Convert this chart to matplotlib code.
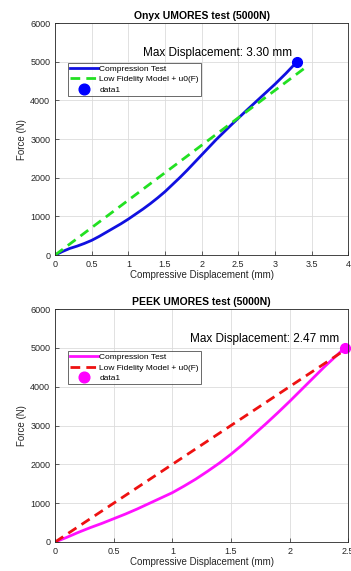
import matplotlib.pyplot as plt
import numpy as np

plt.rcParams['font.family'] = ['Liberation Sans', 'DejaVu Sans']

# Onyx test data
onyx_disp = [0, 0.1, 0.2, 0.3, 0.4, 0.5, 0.6, 0.7, 0.8, 0.9, 1.0, 1.1, 1.2, 1.3, 1.4, 1.5,
             1.6, 1.7, 1.8, 1.9, 2.0, 2.1, 2.2, 2.4, 2.6, 2.8, 3.0, 3.15, 3.3]
onyx_force = [0, 90, 170, 230, 300, 380, 480, 590, 700, 810, 930, 1060, 1190, 1330, 1480, 1640,
              1820, 2000, 2190, 2390, 2590, 2790, 2990, 3360, 3720, 4070, 4420, 4700, 5000]
onyx_model_disp = [0, 3.45]
onyx_model_force = [0, 4900]
onyx_max = 3.30

# PEEK test data
peek_disp = [0, 0.1, 0.2, 0.3, 0.4, 0.5, 0.6, 0.7, 0.8, 0.9, 1.0, 1.1, 1.2, 1.3, 1.4, 1.5,
             1.6, 1.7, 1.8, 1.9, 2.0, 2.1, 2.2, 2.3, 2.4, 2.47]
peek_force = [0, 120, 250, 370, 480, 600, 720, 850, 990, 1130, 1270, 1440, 1620, 1820, 2030, 2260,
              2510, 2780, 3050, 3330, 3620, 3920, 4220, 4520, 4800, 5000]
peek_model_disp = [0, 2.47]
peek_model_force = [0, 4940]
peek_max = 2.47

fig = plt.figure(figsize=(3.51, 5.71), dpi=100)
ax1 = fig.add_axes([0.157, 0.5534, 0.835, 0.406])
ax2 = fig.add_axes([0.157, 0.0508, 0.835, 0.408])


def style(ax, xmax, xticks, title):
    ax.set_xlim(0, xmax)
    ax.set_ylim(0, 6000)
    ax.set_xticks(xticks)
    ax.set_xticklabels([('%g' % t) for t in xticks])
    ax.set_yticks(range(0, 6001, 1000))
    ax.grid(True, color='#dcdcdc', linewidth=0.6)
    ax.set_axisbelow(True)
    ax.tick_params(direction='in', labelsize=6.5, colors='#262626', length=3, width=0.5)
    for s in ax.spines.values():
        s.set_color('#262626')
        s.set_linewidth(0.6)
    ax.set_title(title, fontsize=7.5, fontweight='bold', pad=3)
    ax.set_xlabel('Compressive Displacement (mm)', fontsize=7, color='#262626', labelpad=1)
    ax.set_ylabel('Force (N)', fontsize=7, color='#262626', labelpad=2)


def legend(ax, top):
    leg = ax.legend(loc='upper left', bbox_to_anchor=(0.043, top), fontsize=6, frameon=True,
                    fancybox=False, edgecolor='#262626', borderpad=0.3, labelspacing=0.3,
                    handlelength=3.3, handletextpad=0.2, borderaxespad=0, markerscale=1.1)
    leg.get_frame().set_linewidth(0.6)


dash = (0, (3.5, 2.2))

ax1.plot(onyx_disp, onyx_force, color='#1010e0', linewidth=2, label='Compression Test')
ax1.plot(onyx_model_disp, onyx_model_force, color='#22e022', linewidth=2, linestyle=dash,
         label='Low Fidelity Model + u0(F)')
ax1.plot([onyx_max], [5000], 'o', color='#0000ff', markersize=7, label='data1')
ax1.text(onyx_max - 0.065, 5230, 'Max Displacement: %.2f mm' % onyx_max, ha='right', va='center', fontsize=8.5)
style(ax1, 4, [0, 0.5, 1, 1.5, 2, 2.5, 3, 3.5, 4], 'Onyx UMORES test (5000N)')
legend(ax1, 0.83)

ax2.plot(peek_disp, peek_force, color='#ff10ff', linewidth=2, label='Compression Test')
ax2.plot(peek_model_disp, peek_model_force, color='#ee1111', linewidth=2, linestyle=dash,
         label='Low Fidelity Model + u0(F)')
ax2.plot([peek_max], [5000], 'o', color='#ff00ff', markersize=7, label='data1', clip_on=False)
ax2.text(peek_max - 0.047, 5230, 'Max Displacement: %.2f mm' % peek_max, ha='right', va='center', fontsize=8.5)
style(ax2, 2.5, [0, 0.5, 1, 1.5, 2, 2.5], 'PEEK UMORES test (5000N)')
legend(ax2, 0.82)

fig.savefig('out.png', dpi=100)
